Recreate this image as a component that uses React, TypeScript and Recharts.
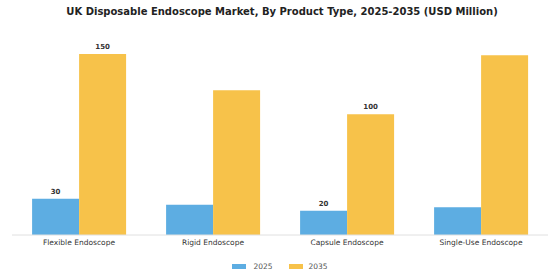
import React from 'react';
import { BarChart, Bar, XAxis, YAxis, Legend, LabelList } from 'recharts';

const categories = ['Flexible Endoscope', 'Rigid Endoscope', 'Capsule Endoscope', 'Single-Use Endoscope'];
const values2025 = [30, 25, 20, 23];
const values2035 = [150, 120, 100, 149];
const showLabels = [true, false, true, false];

const data = categories.map((name, i) => ({
  name,
  y2025: values2025[i],
  y2035: values2035[i],
}));

const BLUE = '#5dade2';
const ORANGE = '#f7c24a';

const renderLabel = (props: any) => {
  const { x, y, width, value, index } = props;
  if (!showLabels[index]) return null;
  return (
    <text
      x={x + width / 2}
      y={y - 5}
      textAnchor="middle"
      fontSize={7}
      fontWeight="bold"
      fill="#333"
      fontFamily="DejaVu Sans"
    >
      {value}
    </text>
  );
};

export default function App() {
  return (
    <div style={{ position: 'absolute', left: 0, top: 0, width: 560, height: 280, background: '#fff', fontFamily: 'DejaVu Sans' }}>
      <div
        style={{
          position: 'absolute',
          top: 6,
          left: 0,
          width: 564,
          textAlign: 'center',
          fontSize: 10,
          fontWeight: 'bold',
          color: '#222',
        }}
      >
        UK Disposable Endoscope Market, By Product Type, 2025-2035 (USD Million)
      </div>
      <BarChart
        width={560}
        height={280}
        data={data}
        margin={{ top: 54, right: 12, left: 12, bottom: 6 }}
        barCategoryGap="15%"
        barGap={0}
      >
        <XAxis
          dataKey="name"
          tickLine={false}
          tickSize={0}
          tickMargin={5}
          height={16}
          axisLine={{ stroke: '#e0e0e0' }}
          tick={{ fontSize: 7.5, fill: '#333', fontFamily: 'DejaVu Sans' }}
          interval={0}
        />
        <YAxis hide domain={[0, 150]} />
        <Legend
          verticalAlign="bottom"
          height={23}
          content={() => (
            <div style={{ display: 'flex', justifyContent: 'center', alignItems: 'center', paddingTop: 11, fontSize: 7.5, color: '#555', fontFamily: 'DejaVu Sans' }}>
              <span style={{ display: 'inline-block', width: 14, height: 5, background: BLUE, marginRight: 7 }} />
              <span style={{ marginRight: 16 }}>2025</span>
              <span style={{ display: 'inline-block', width: 14, height: 5, background: ORANGE, marginRight: 6 }} />
              <span>2035</span>
            </div>
          )}
        />
        <Bar dataKey="y2025" name="2025" fill={BLUE} isAnimationActive={false}>
          <LabelList dataKey="y2025" content={renderLabel} />
        </Bar>
        <Bar dataKey="y2035" name="2035" fill={ORANGE} isAnimationActive={false}>
          <LabelList dataKey="y2035" content={renderLabel} />
        </Bar>
      </BarChart>
    </div>
  );
}
